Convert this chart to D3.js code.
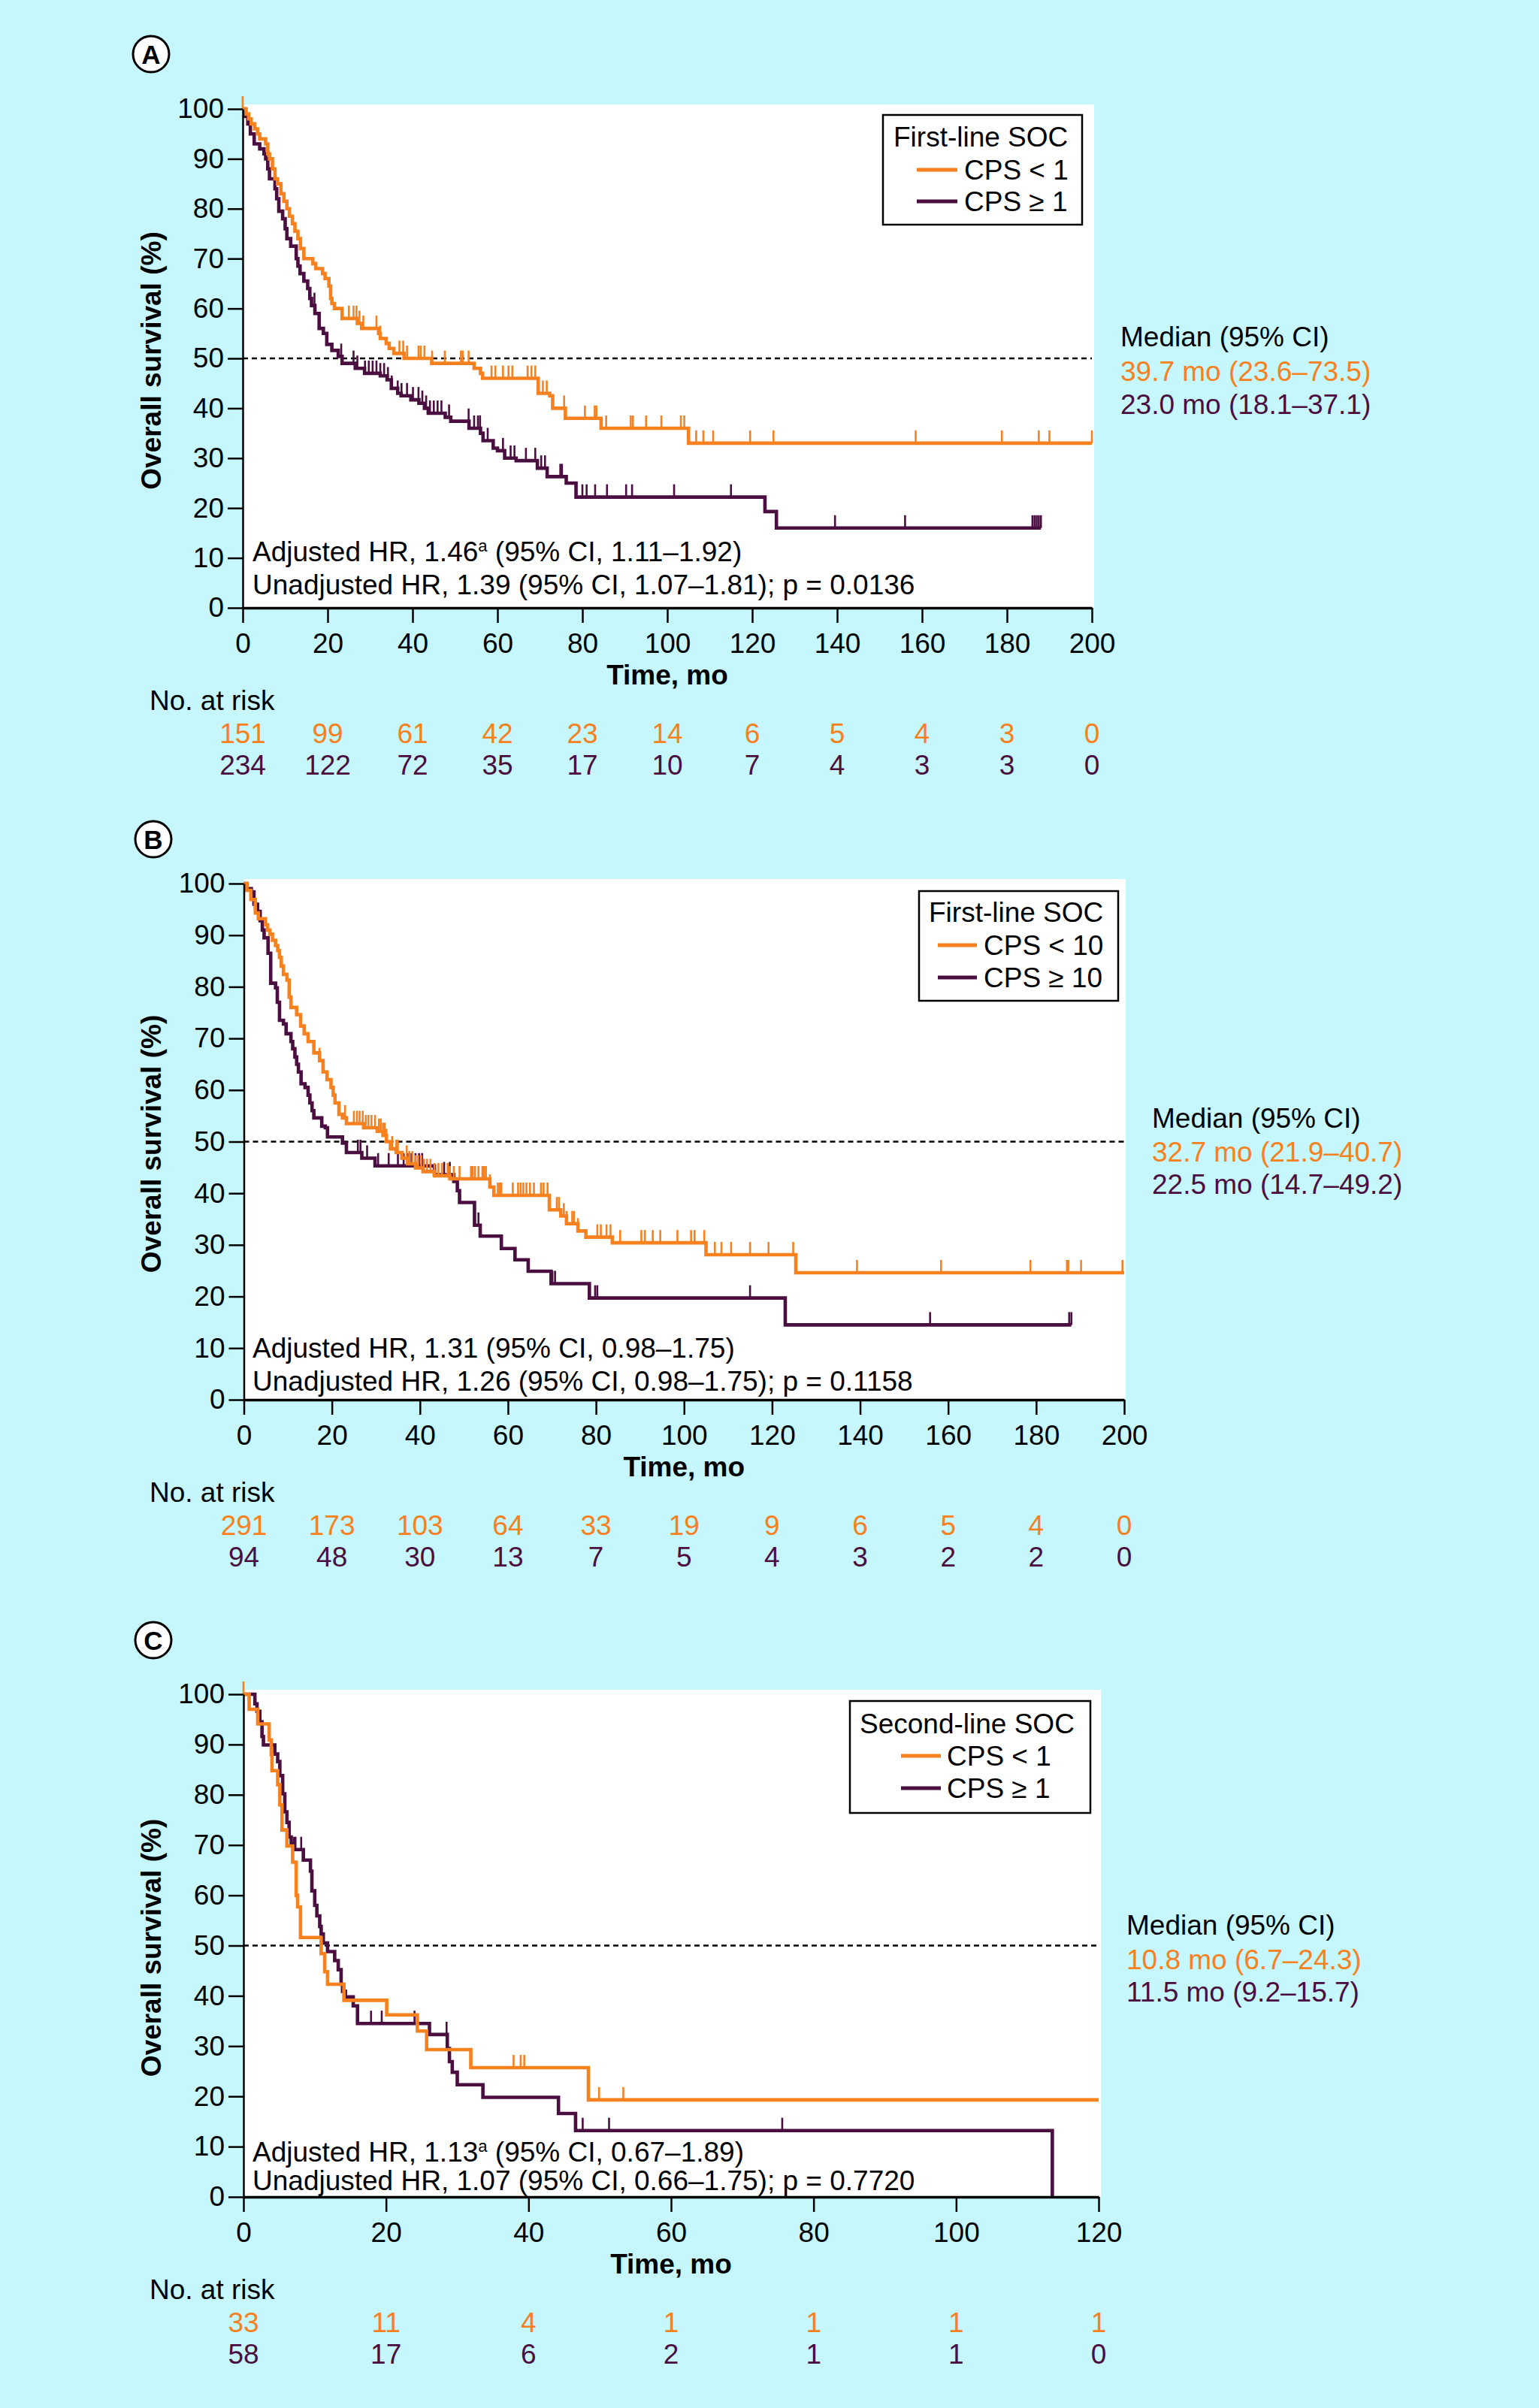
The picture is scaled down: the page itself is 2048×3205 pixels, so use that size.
<!DOCTYPE html>
<html>
<head>
<meta charset="utf-8">
<script src="https://cdn.jsdelivr.net/npm/d3@7"></script>
<style>
  body { margin: 0; background: #c6f7fc; }
  svg { display: block; font-family: "Liberation Sans", Arial, Helvetica, sans-serif; }
</style>
</head>
<body>
<div id="chart"></div>
<script>
// ---- Panel A: first-line SOC, CPS < 1 vs CPS >= 1 ----
const aRiskTimes = [0, 20, 40, 60, 80, 100, 120, 140, 160, 180, 200];
const aRiskOrange = [151, 99, 61, 42, 23, 14, 6, 5, 4, 3, 0];
const aRiskPurple = [234, 122, 72, 35, 17, 10, 7, 4, 3, 3, 0];
const aOrange = [[0,100],[0.8,99],[1.4,98],[2,97],[2.8,96],[3.5,95],[4,94],[5.4,93],[5.9,91],[6.3,90],[7,88],[7.6,86],[8.2,85],[9,83],[9.7,81.5],[10.4,80],[11,78.5],[11.7,77],[12.3,75.5],[13,74],[13.6,72],[14.4,70],[16.5,69],[17.2,68],[18.8,67],[19.4,66],[20.3,64.5],[20.7,62],[21,61],[21.6,60],[23.4,58],[27,57],[28,56],[32,55],[32.4,54],[33.8,53],[34.5,52],[35.6,51],[38,50],[44.5,49],[54.5,48],[56,47],[56.5,46],[69.6,43],[72.3,42.5],[73,40],[76,38],[84.4,36],[105,33],[200,33]];
const aPurple = [[0,100],[0.5,98.5],[1.2,97],[1.8,95],[2.7,93],[4,92],[5,91],[5.4,90],[5.9,88],[6.3,86],[7.6,84],[8,82],[8.5,79.5],[9.4,78],[10,76],[10.4,74],[11.3,72.5],[12.6,70],[13,68.5],[13.5,67],[14.4,65.5],[15.3,64],[15.8,62],[16.2,60.6],[17,59],[18,56],[19,55],[19.8,52.8],[21,51.6],[22.5,50.4],[23.4,49],[26.5,48],[28.7,47],[32.4,46.5],[34,45.7],[35,44],[36.5,43],[37.3,42.5],[39.6,41.7],[41.5,41],[42.8,40],[43.7,39],[47.7,38.2],[49,37.4],[53.3,36],[56,35],[56.6,33.5],[59,32],[60,31.5],[61.7,30],[64.4,29.5],[69.4,28],[71.7,26.3],[76.2,25],[78.5,22.2],[123,19.3],[125.7,16],[188,16]];
const aOrangeCens = [0,25,26.1,26.8,27.5,28.4,31.5,32.4,36.9,37.8,38.7,41.4,41.9,42.8,44.6,47.6,51.4,51.8,53.2,58.6,59.5,61.3,62.6,63.5,67.1,68,68.9,70.7,71.6,75.7,80.6,82.9,83.3,85.6,91.4,91.9,95,98.6,103.2,104,106.8,108.5,110.8,119.5,125,158.5,178.8,187.5,190,200];
const aPurpleCens = [16.9,23.2,26.1,27,28.8,29.7,30.6,31.5,32.4,33.3,34.2,35.1,36.5,37.4,38.7,40.1,41.4,42.3,43.2,44.1,45,45.9,46.8,48.6,53.2,54.5,55.4,55.9,57.7,61.3,63.1,64,66.7,68.9,70.3,71.2,74.8,75.2,80,81,83,85.8,90.3,91.7,101.6,115,139.5,156,186,186.5,187,187.5,188];

// ---- Panel B: first-line SOC, CPS < 10 vs CPS >= 10 ----
const bRiskTimes = [0, 20, 40, 60, 80, 100, 120, 140, 160, 180, 200];
const bRiskOrange = [291, 173, 103, 64, 33, 19, 9, 6, 5, 4, 0];
const bRiskPurple = [94, 48, 30, 13, 7, 5, 4, 3, 2, 2, 0];
const bOrange = [[0,100],[0.7,98.7],[1.6,96.9],[2.6,94.3],[3.3,93.2],[4.9,92],[5.4,91],[5.9,90.2],[6.5,89],[7.2,88],[7.7,87],[8.1,85.7],[8.5,84],[9,82.4],[9.8,81.3],[10.3,78],[10.7,76],[12,74.6],[12.9,72.4],[13.7,70.9],[14.6,69.4],[15.9,67.2],[17.2,65.7],[18,63.5],[18.9,62],[19.8,60.5],[20.3,59],[20.7,57.5],[21.6,55.3],[22.4,54.6],[23.3,53.5],[27.2,52.7],[30.3,52],[31.6,51.2],[32.4,50],[33.3,48.6],[34.6,47.9],[35.9,46.8],[37.2,45.7],[39,44.9],[40.7,44.2],[43.3,43.4],[46.8,42.8],[55.9,41.2],[56.8,39.6],[69.4,36.8],[72,35.6],[73.3,34.1],[75.9,32.7],[77.7,31.5],[83.7,30.4],[105,28.1],[125.4,24.6],[200,24.6]];
const bPurple = [[0,100],[0.7,99],[1.7,98.4],[2.3,96],[3.1,94.6],[3.7,92.8],[4.2,91],[4.6,89.5],[5.5,86.5],[6.1,80.7],[7.2,79.8],[7.6,77],[8.1,73.5],[9,72.8],[9.6,70.9],[10.7,69.4],[11.1,68],[11.6,66.4],[12,65],[12.4,63.5],[13,61.2],[13.9,60.5],[14.6,59],[15,57.5],[15.5,56],[15.9,54.6],[17.7,53],[18.5,52.7],[19,50.9],[22.4,49.7],[23.3,47.9],[26.8,46.8],[29.8,45.3],[43.3,43.6],[47.7,42.3],[48.5,40.5],[49,38.2],[52.4,33.8],[53.7,31.7],[58.5,29.3],[61.6,27.1],[64.6,24.9],[69.8,22.5],[78.5,19.7],[123,14.5],[188,14.5]];
const bOrangeCens = [17.2,23,25,25.7,26.3,27,27.7,28.3,29,29.8,30.7,31.1,31.6,32,32.4,33.7,34.6,35,37,37.6,38.3,39,39.6,40.3,40.9,41.6,42.4,43.3,44.2,45,46.3,46.8,47.7,49,51.6,52,52.5,53.3,54.2,54.6,55,55.9,57.7,58.1,58.5,61.1,62.3,62.9,63.5,64.2,65,65.9,67.5,68.1,69,71.1,71.6,72.7,73.3,74.6,75,75.9,80.3,81.1,82.4,83.3,85.5,90.3,91.1,92.9,94.6,98.5,101.6,102.4,104.6,107,108.5,110.7,115,119.2,124.8,139.3,158.4,178.7,187,187.3,190.2,199.6];
const bPurpleCens = [25.9,26.5,28,30.5,32.9,35,36.3,37.2,38.1,39,39.8,40.5,45.5,46.8,48.5,53.3,70.1,70.7,79.8,80.3,115,155.9,187.5,188];

// ---- Panel C: second-line SOC, CPS < 1 vs CPS >= 1 ----
const cRiskTimes = [0, 20, 40, 60, 80, 100, 120];
const cRiskOrange = [33, 11, 4, 1, 1, 1, 1];
const cRiskPurple = [58, 17, 6, 2, 1, 1, 0];
const cOrange = [[0,100],[0.8,97],[2,94.1],[3.6,90.9],[3.9,88],[4,84.8],[4.8,82],[5.1,78],[5.4,73],[6.1,69.8],[6.9,66.6],[7.4,60],[7.6,57.7],[8,51.6],[10.9,48.4],[11.4,44.8],[11.8,42.3],[14.1,39.1],[20.1,36.2],[24.4,33],[25.7,29.3],[31.9,25.7],[48.4,19.3],[120,19.3]];
const cPurple = [[0,100],[1.6,98.1],[1.9,96.6],[2.3,94.5],[2.6,91.6],[2.8,89.9],[4.4,88.1],[4.8,86.6],[5.1,83.8],[5.5,80.2],[5.8,76.6],[6.1,74.5],[6.4,71.6],[6.7,70.2],[7.1,69.1],[8.4,67],[9.4,64.8],[9.6,60.9],[10,58],[10.3,55.9],[10.7,53.8],[10.9,52.3],[11.2,50.5],[11.8,48.8],[12.8,47],[13.3,45.2],[13.7,42.3],[13.9,40.9],[14.3,39.8],[15.4,38],[16,34.5],[26.1,32.3],[28.6,29.5],[28.9,26.9],[29.3,24.8],[30,22.3],[33.6,19.8],[44.2,16.6],[46.6,13.2],[113.5,0]];
const cOrangeCens = [0,37.9,38.9,39.4,49.9,53.3];
const cPurpleCens = [7.1,7.3,8.1,17.9,19.4,24,28.5,47.6,51.3,75.6];

const yTicks = [0, 10, 20, 30, 40, 50, 60, 70, 80, 90, 100];

const ORANGE = "#f7801f";
const PURPLE = "#4b0e40";
const FONT = 37;

const svg = d3.select("#chart").append("svg")
  .attr("width", 2048)
  .attr("height", 3205);

svg.append("rect").attr("width", 2048).attr("height", 3205).attr("fill", "#c6f7fc");

const panels = [
  {
    letter: "A", letterPos: [201, 72],
    left: 323, right: 1453, top: 145, bottom: 809, xMax: 200, whiteRight: 1456,
    orange: aOrange, purple: aPurple, orangeCens: aOrangeCens, purpleCens: aPurpleCens,
    riskTimes: aRiskTimes, riskOrange: aRiskOrange, riskPurple: aRiskPurple,
    legend: { box: [1175, 153, 265, 146], title: "First-line SOC", titleX: 1189, lineX: [1220, 1274], textX: 1283,
              rows: ["CPS < 1", "CPS \u2265 1"], ys: [182, 226, 268] },
    median: { x: 1491, ys: [448, 494, 538], texts: ["Median (95% CI)", "39.7 mo (23.6\u201373.5)", "23.0 mo (18.1\u201337.1)"] },
    hr: { x: 336, ys: [734, 778], adj: ["Adjusted HR, 1.46", "a", " (95% CI, 1.11\u20131.92)"],
          unadj: "Unadjusted HR, 1.39 (95% CI, 1.07\u20131.81); p = 0.0136" }
  },
  {
    letter: "B", letterPos: [204, 1117],
    left: 324.5, right: 1496, top: 1176, bottom: 1863, xMax: 200, whiteRight: 1498,
    orange: bOrange, purple: bPurple, orangeCens: bOrangeCens, purpleCens: bPurpleCens,
    riskTimes: bRiskTimes, riskOrange: bRiskOrange, riskPurple: bRiskPurple,
    legend: { box: [1223, 1186, 265, 146], title: "First-line SOC", titleX: 1236, lineX: [1248, 1300], textX: 1309,
              rows: ["CPS < 10", "CPS \u2265 10"], ys: [1214, 1258, 1301] },
    median: { x: 1533, ys: [1488, 1533, 1576], texts: ["Median (95% CI)", "32.7 mo (21.9\u201340.7)", "22.5 mo (14.7\u201349.2)"] },
    hr: { x: 336, ys: [1794, 1838], adj: ["Adjusted HR, 1.31 (95% CI, 0.98\u20131.75)", "", ""],
          unadj: "Unadjusted HR, 1.26 (95% CI, 0.98\u20131.75); p = 0.1158" }
  },
  {
    letter: "C", letterPos: [204, 2183],
    left: 324, right: 1462, top: 2255, bottom: 2924, xMax: 120, whiteRight: 1465,
    orange: cOrange, purple: cPurple, orangeCens: cOrangeCens, purpleCens: cPurpleCens,
    riskTimes: cRiskTimes, riskOrange: cRiskOrange, riskPurple: cRiskPurple,
    legend: { box: [1131, 2264, 320, 149], title: "Second-line SOC", titleX: 1144, lineX: [1199, 1252], textX: 1260,
              rows: ["CPS < 1", "CPS \u2265 1"], ys: [2294, 2337, 2380] },
    median: { x: 1499, ys: [2562, 2608, 2651], texts: ["Median (95% CI)", "10.8 mo (6.7\u201324.3)", "11.5 mo (9.2\u201315.7)"] },
    hr: { x: 336, ys: [2864, 2902], adj: ["Adjusted HR, 1.13", "a", " (95% CI, 0.67\u20131.89)"],
          unadj: "Unadjusted HR, 1.07 (95% CI, 0.66\u20131.75); p = 0.7720" }
  }
];

// survival value of a step curve at time t (for placing censor marks on the curve)
const bisect = d3.bisector(d => d[0]).right;
function survAt(steps, t) {
  const i = Math.max(0, bisect(steps, t) - 1);
  return steps[i][1];
}

panels.forEach(p => {
  const x = d3.scaleLinear().domain([0, p.xMax]).range([p.left, p.right]);
  const y = d3.scaleLinear().domain([0, 100]).range([p.bottom, p.top]);
  const g = svg.append("g");

  // white plotting area
  g.append("rect")
    .attr("x", p.left).attr("y", p.top - 6)
    .attr("width", p.whiteRight - p.left).attr("height", p.bottom - p.top + 6)
    .attr("fill", "#fff");

  // panel letter
  g.append("circle")
    .attr("cx", p.letterPos[0]).attr("cy", p.letterPos[1]).attr("r", 24)
    .attr("fill", "#fff").attr("stroke", "#000").attr("stroke-width", 3);
  g.append("text")
    .attr("x", p.letterPos[0]).attr("y", p.letterPos[1])
    .attr("dy", "0.36em").attr("text-anchor", "middle")
    .attr("font-size", 35).attr("font-weight", "bold")
    .text(p.letter);

  // median reference line
  g.append("line")
    .attr("x1", x(0)).attr("x2", x(p.xMax))
    .attr("y1", y(50)).attr("y2", y(50))
    .attr("stroke", "#000").attr("stroke-width", 2.5)
    .attr("stroke-dasharray", "7,5");

  const line = d3.line()
    .x(d => x(d[0]))
    .y(d => y(d[1]))
    .curve(d3.curveStepAfter);

  [[p.purple, p.purpleCens, PURPLE], [p.orange, p.orangeCens, ORANGE]].forEach(([steps, cens, col]) => {
    g.append("path")
      .datum(steps)
      .attr("d", line)
      .attr("fill", "none")
      .attr("stroke", col)
      .attr("stroke-width", 4.6);
    g.selectAll(null)
      .data(cens)
      .enter()
      .append("line")
      .attr("x1", d => x(d)).attr("x2", d => x(d))
      .attr("y1", d => y(survAt(steps, d)))
      .attr("y2", d => y(survAt(steps, d)) - 17)
      .attr("stroke", col)
      .attr("stroke-width", 2.6);
  });

  // axes
  const gx = g.append("g")
    .attr("transform", `translate(0,${p.bottom})`)
    .call(d3.axisBottom(x).tickValues(p.riskTimes).tickSize(20).tickPadding(14).tickSizeOuter(0));
  const gy = g.append("g")
    .attr("transform", `translate(${p.left},0)`)
    .call(d3.axisLeft(y).tickValues(yTicks).tickSize(20).tickPadding(5).tickSizeOuter(0));
  [gx, gy].forEach(ax => {
    ax.attr("font-family", null).attr("font-size", null);
    ax.selectAll("text").attr("font-size", FONT).attr("fill", "#000");
    ax.selectAll(".tick line").attr("stroke-width", 2.5);
  });
  gx.select(".domain").attr("stroke-width", 3.5);
  gy.select(".domain").attr("stroke-width", 2.5);

  // axis titles
  g.append("text")
    .attr("x", (p.left + p.right) / 2).attr("y", p.bottom + 89)
    .attr("dy", "0.35em").attr("text-anchor", "middle")
    .attr("font-size", FONT).attr("font-weight", "bold")
    .text("Time, mo");
  g.append("text")
    .attr("transform", `translate(201,${(p.top + p.bottom) / 2 + 3}) rotate(-90)`)
    .attr("dy", "0.35em").attr("text-anchor", "middle")
    .attr("font-size", FONT).attr("font-weight", "bold")
    .text("Overall survival (%)");

  // number at risk
  g.append("text")
    .attr("x", 199).attr("y", p.bottom + 123)
    .attr("dy", "0.35em").attr("font-size", FONT)
    .text("No. at risk");
  [[p.riskOrange, ORANGE, 167], [p.riskPurple, PURPLE, 209]].forEach(([vals, col, off]) => {
    g.selectAll(null)
      .data(vals)
      .enter()
      .append("text")
      .attr("x", (d, i) => x(p.riskTimes[i]))
      .attr("y", p.bottom + off)
      .attr("dy", "0.35em").attr("text-anchor", "middle")
      .attr("font-size", FONT).attr("fill", col)
      .text(d => d);
  });

  // legend
  const L = p.legend;
  g.append("rect")
    .attr("x", L.box[0]).attr("y", L.box[1])
    .attr("width", L.box[2]).attr("height", L.box[3])
    .attr("fill", "#fff").attr("stroke", "#000").attr("stroke-width", 2.5);
  g.append("text")
    .attr("x", L.titleX).attr("y", L.ys[0])
    .attr("dy", "0.35em").attr("font-size", FONT)
    .text(L.title);
  [ORANGE, PURPLE].forEach((col, i) => {
    g.append("line")
      .attr("x1", L.lineX[0]).attr("x2", L.lineX[1])
      .attr("y1", L.ys[i + 1]).attr("y2", L.ys[i + 1])
      .attr("stroke", col).attr("stroke-width", 5);
    g.append("text")
      .attr("x", L.textX).attr("y", L.ys[i + 1])
      .attr("dy", "0.35em").attr("font-size", FONT)
      .text(L.rows[i]);
  });

  // medians
  const M = p.median;
  ["#000", ORANGE, PURPLE].forEach((col, i) => {
    g.append("text")
      .attr("x", M.x).attr("y", M.ys[i])
      .attr("dy", "0.35em").attr("font-size", FONT).attr("fill", col)
      .text(M.texts[i]);
  });

  // hazard ratios
  const H = p.hr;
  const t1 = g.append("text")
    .attr("x", H.x).attr("y", H.ys[0])
    .attr("dy", "0.35em").attr("font-size", FONT);
  t1.append("tspan").text(H.adj[0]);
  if (H.adj[1]) {
    t1.append("tspan").attr("font-size", 22).attr("dy", -13).text(H.adj[1]);
    t1.append("tspan").attr("dy", 13).text(H.adj[2]);
  }
  g.append("text")
    .attr("x", H.x).attr("y", H.ys[1])
    .attr("dy", "0.35em").attr("font-size", FONT)
    .text(H.unadj);
});
</script>
</body>
</html>
